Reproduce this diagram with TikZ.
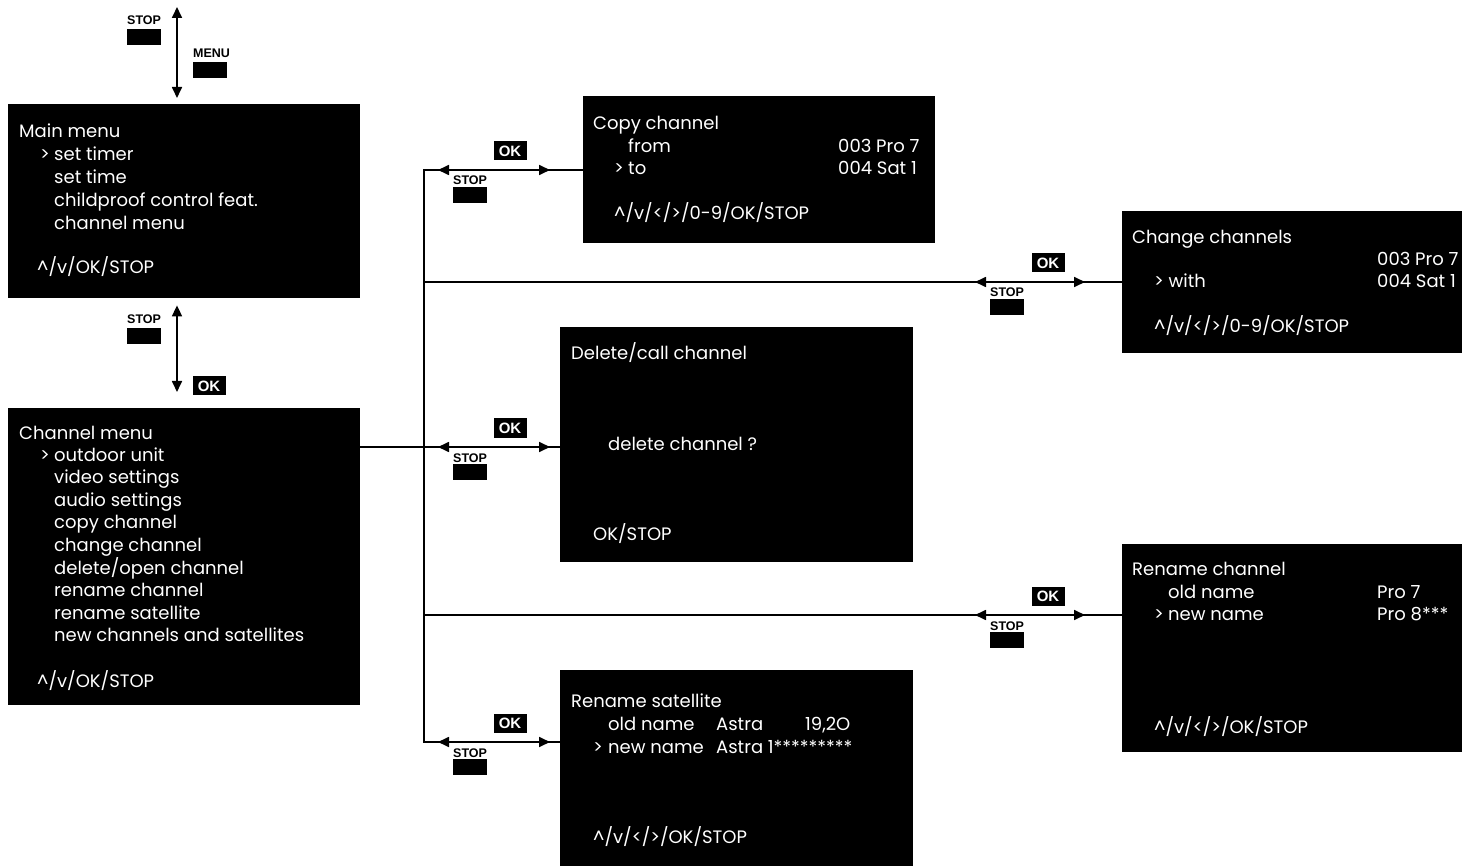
\documentclass[tikz,border=0pt]{standalone}
\usepackage{fontspec}
\usepackage{tikz}
\usetikzlibrary{arrows.meta, positioning, calc}
\newfontfamily\osdfont{Poppins}
\newfontfamily\keyfont{Liberation Sans}

\begin{document}
\begin{tikzpicture}[x=1pt,y=-1pt,
    screen/.style={fill=black, inner sep=0pt, anchor=north west},
    osd/.style={text=white, font=\osdfont\fontsize{18}{20}\selectfont, anchor=base west, inner sep=0pt},
    keyname/.style={font=\keyfont\bfseries\fontsize{12.5}{12}\selectfont, anchor=base west, inner sep=0pt},
    keycap/.style={fill=black, inner sep=0pt, minimum width=34pt, minimum height=16pt, anchor=north west},
    okkey/.style={fill=black, text=white, font=\keyfont\bfseries\fontsize{15}{15}\selectfont, inner sep=0pt, minimum width=33pt, minimum height=19pt},
    link/.style={line width=1.7pt},
    both/.style={line width=1.7pt, {Triangle[length=11pt,width=10pt]}-{Triangle[length=11pt,width=10pt]}}]
  \useasboundingbox (0,0) rectangle (1462,866);

  % screens
  \node[screen, minimum width=352pt, minimum height=194pt] (mainmenu) at (8,104) {};
  \node[screen, minimum width=352pt, minimum height=297pt] (chanmenu) at (8,408) {};
  \node[screen, minimum width=352pt, minimum height=147pt] (copych) at (583,96) {};
  \node[screen, minimum width=340pt, minimum height=142pt] (changech) at (1122,211) {};
  \node[screen, minimum width=353pt, minimum height=235pt] (delch) at (560,327) {};
  \node[screen, minimum width=340pt, minimum height=208pt] (renamech) at (1122,544) {};
  \node[screen, minimum width=353pt, minimum height=196pt] (renamesat) at (560,670) {};

  % main menu
  \node[osd] (mhead) at (19,138) {Main menu};
  \node[osd] (mcur) at (40,161) {>};
  \foreach \t [count=\i from 0] in {set timer, set time, childproof control feat., channel menu} {
    \node[osd] (m\i) at (54,161+22.7*\i) {\t};
  }
  \node[osd] (mkeys) at (37,274) {\textasciicircum/v/OK/STOP};

  % channel menu
  \node[osd] (chead) at (19,439) {Channel menu};
  \node[osd] (ccur) at (40,461) {>};
  \foreach \t [count=\i from 0] in {outdoor unit, video settings, audio settings, copy channel,
      change channel, delete/open channel, rename channel, rename satellite, new channels and satellites} {
    \node[osd] (c\i) at (54,461+22.6*\i) {\t};
  }
  \node[osd] (ckeys) at (37,687) {\textasciicircum/v/OK/STOP};

  % copy channel
  \node[osd] (cphead) at (593,130) {Copy channel};
  \node[osd] (cpfrom) at (628,153) {from};
  \node[osd] (cpcur) at (614,175) {>};
  \node[osd] (cpto) at (628,175) {to};
  \node[osd] (cpsrc) at (838,153) {003 Pro 7};
  \node[osd] (cpdst) at (838,175) {004 Sat 1};
  \node[osd] (cpkeys) at (614,220) {\textasciicircum/v/</>/0-9/OK/STOP};

  % change channels
  \node[osd] (chhead) at (1132,244) {Change channels};
  \node[osd] (chsrc) at (1377,266) {003 Pro 7};
  \node[osd] (chwith) at (1154,288) {> with};
  \node[osd] (chdst) at (1377,288) {004 Sat 1};
  \node[osd] (chkeys) at (1154,333) {\textasciicircum/v/</>/0-9/OK/STOP};

  % delete/call channel
  \node[osd] (dlhead) at (571,360) {Delete/call channel};
  \node[osd] (dlask) at (608,450) {delete channel ?};
  \node[osd] (dlkeys) at (593,540) {OK/STOP};

  % rename channel
  \node[osd] (rchead) at (1132,575) {Rename channel};
  \node[osd] (rcold) at (1168,598) {old name};
  \node[osd] (rccur) at (1154,620) {>};
  \node[osd] (rcnew) at (1168,620) {new name};
  \node[osd] (rcoldv) at (1377,598) {Pro 7};
  \node[osd] (rcnewv) at (1377,620) {Pro 8***};
  \node[osd] (rckeys) at (1154,733) {\textasciicircum/v/</>/OK/STOP};

  % rename satellite
  \node[osd] (rshead) at (571,707) {Rename satellite};
  \node[osd] (rsold) at (608,730) {old name};
  \node[osd] (rsoldv) at (716,730) {Astra};
  \node[osd] (rspos) at (805,730) {19,2O};
  \node[osd] (rscur) at (593,753) {>};
  \node[osd] (rsnew) at (608,753) {new name};
  \node[osd] (rsnewv) at (716,753) {Astra 1*********};
  \node[osd] (rskeys) at (593,843) {\textasciicircum/v/</>/OK/STOP};

  % up/down between menus
  \coordinate (updown) at (177,7);
  \draw[both, shorten >=6pt] (updown) -- (mainmenu.north -| updown);
  \draw[both, shorten <=7pt, shorten >=16pt] (mainmenu.south -| updown) -- (chanmenu.north -| updown);
  \node[keyname] (stop0) at (127,25) {STOP};
  \node[keycap] (stop0cap) at (127,29) {};
  \node[keyname] (menu0) at (193,58) {MENU};
  \node[keycap] (menu0cap) at (193,62) {};
  \node[keyname] (stop1) at (127,324) {STOP};
  \node[keycap] (stop1cap) at (127,328) {};
  \node[okkey] (ok1) at (209,386) {OK};

  % branches
  \coordinate (j1) at (424,170);
  \coordinate (j2) at (424,282);
  \coordinate (j3) at (424,447);
  \coordinate (j4) at (424,615);
  \coordinate (j5) at (424,742);
  \draw[link] (copych.west |- j1) -- (j1) -- (j5) -- (renamesat.west |- j5);
  \draw[link] (j2) -- (changech.west |- j2);
  \draw[link] (chanmenu.east |- j3) -- (delch.west |- j3);
  \draw[link] (j4) -- (renamech.west |- j4);
  \draw[both] ([xshift=14pt]j1) -- ([xshift=126pt]j1);
  \draw[both] ([xshift=14pt]j3) -- ([xshift=126pt]j3);
  \draw[both] ([xshift=14pt]j5) -- ([xshift=126pt]j5);
  \draw[both] ($(changech.west |- j2)+(-147,0)$) -- ($(changech.west |- j2)+(-37,0)$);
  \draw[both] ($(renamech.west |- j4)+(-147,0)$) -- ($(renamech.west |- j4)+(-37,0)$);
  \foreach \y/\ok/\st [count=\i] in {170/510/453, 282/1048/990, 447/510/453, 615/1048/990, 742/510/453} {
    \node[okkey] (okb\i) at (\ok,\y-19) {OK};
    \node[keyname] (stopb\i) at (\st,\y+15) {STOP};
    \node[keycap] (capb\i) at (\st,\y+17) {};
  }
\end{tikzpicture}
\end{document}
